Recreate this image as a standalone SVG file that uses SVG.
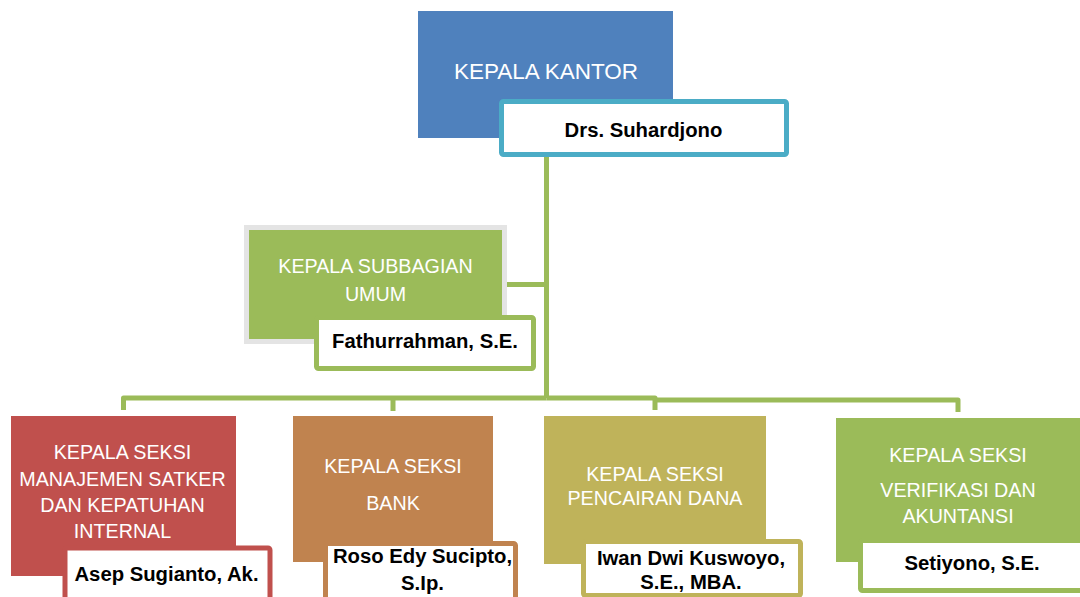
<svg xmlns="http://www.w3.org/2000/svg" width="1080" height="597" viewBox="0 0 1080 597">
<style>
.title{font-family:"Liberation Sans",Arial,sans-serif;fill:#ffffff;text-anchor:middle;font-size:19.7px}
.name{font-family:"Liberation Sans",Arial,sans-serif;font-weight:bold;fill:#000000;text-anchor:middle;font-size:20.3px}
.nbox{fill:#ffffff;stroke-width:5}
.conn{fill:none;stroke:#9BBB59;stroke-width:5;stroke-linejoin:round}
</style>
<rect width="1080" height="597" fill="#ffffff"/>
<g id="connectors">
<path class="conn" d="M546.5,157 V398"/>
<path class="conn" d="M546.5,398 H123.5 V410"/>
<path class="conn" d="M393,398 V411"/>
<path class="conn" d="M546.5,398 H655 V410"/>
<path class="conn" d="M655,400 H958 V412"/>
<path class="conn" d="M505,284.5 H546.5"/>
</g>
<g id="kepala-kantor">
<rect x="418" y="11" width="255" height="127" fill="#4F81BD"/>
<text class="title" x="546" y="79" style="font-size:22.5px">KEPALA KANTOR</text>
<rect class="nbox" x="501.5" y="101.5" width="285" height="53" rx="2" stroke="#4BACC6"/>
<text class="name" x="643.5" y="137">Drs. Suhardjono</text>
</g>
<g id="kepala-subbagian">
<rect x="246.5" y="227.5" width="258" height="114" fill="#9BBB59" stroke="#E4E4E4" stroke-width="5"/>
<text class="title" x="375.5" y="273">KEPALA SUBBAGIAN</text>
<text class="title" x="375.5" y="301">UMUM</text>
<rect class="nbox" x="316.5" y="317.5" width="217" height="51" rx="2" stroke="#9BBB59"/>
<text class="name" x="425" y="348">Fathurrahman, S.E.</text>
</g>
<g id="seksi-manajemen">
<rect x="11" y="416" width="225" height="160" fill="#C0504D"/>
<text class="title" x="122.5" y="459">KEPALA SEKSI</text>
<text class="title" x="122.5" y="486">MANAJEMEN SATKER</text>
<text class="title" x="122.5" y="512">DAN KEPATUHAN</text>
<text class="title" x="122.5" y="538">INTERNAL</text>
<rect class="nbox" x="65" y="548" width="205" height="60" rx="2" stroke="#C0504D"/>
<text class="name" x="166.5" y="581">Asep Sugianto, Ak.</text>
</g>
<g id="seksi-bank">
<rect x="293" y="416" width="200" height="146" fill="#C0834F"/>
<text class="title" x="393" y="473">KEPALA SEKSI</text>
<text class="title" x="393" y="510">BANK</text>
<rect class="nbox" x="325.5" y="543.5" width="190" height="60" rx="2" stroke="#C0834F"/>
<text class="name" x="422.5" y="563">Roso Edy Sucipto,</text>
<text class="name" x="422.5" y="590">S.Ip.</text>
</g>
<g id="seksi-pencairan">
<rect x="544" y="416" width="222" height="148" fill="#BFB35A"/>
<text class="title" x="655" y="481">KEPALA SEKSI</text>
<text class="title" x="655" y="505">PENCAIRAN DANA</text>
<rect class="nbox" x="583.5" y="541.5" width="217" height="54" rx="2" stroke="#BFB35A"/>
<text class="name" x="691" y="565">Iwan Dwi Kuswoyo,</text>
<text class="name" x="691" y="589">S.E., MBA.</text>
</g>
<g id="seksi-verifikasi">
<rect x="836" y="418" width="250" height="144" fill="#9BBB59"/>
<text class="title" x="958" y="462">KEPALA SEKSI</text>
<text class="title" x="958" y="497">VERIFIKASI DAN</text>
<text class="title" x="958" y="523">AKUNTANSI</text>
<rect class="nbox" x="860.5" y="540.5" width="230" height="50" rx="2" stroke="#9BBB59"/>
<text class="name" x="972" y="570">Setiyono, S.E.</text>
</g>
</svg>
